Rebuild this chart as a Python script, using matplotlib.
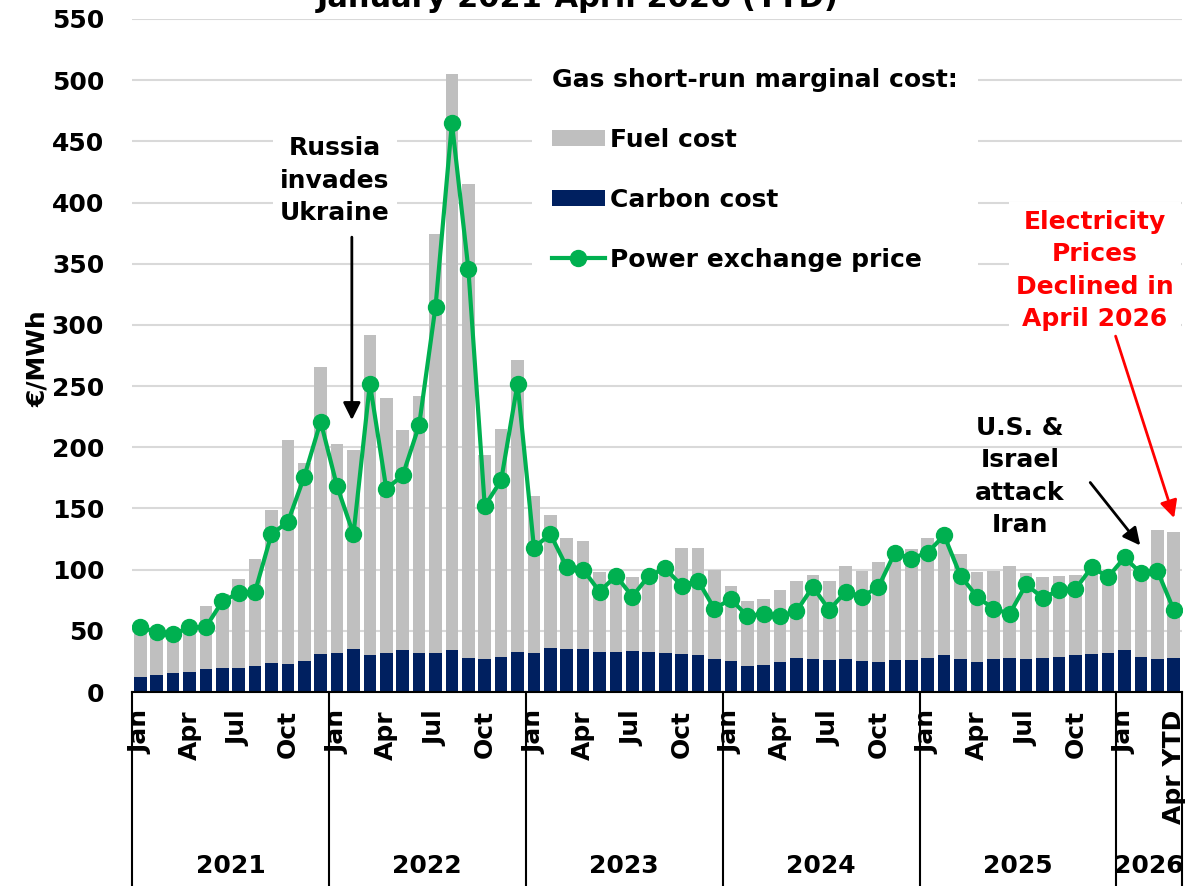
import matplotlib.pyplot as plt
import matplotlib.transforms as mtransforms
from matplotlib.patches import Patch
from matplotlib.lines import Line2D
import numpy as np

# monthly data, Jan 2021 .. Apr 2026 (EUR/MWh)
years = ["2021", "2022", "2023", "2024", "2025", "2026"]
months_per_year = [12, 12, 12, 12, 12, 4]
month_labels = (["Jan", "", "", "Apr", "", "", "Jul", "", "", "Oct", "", ""] * 5
                + ["Jan", "", "", "Apr YTD"])

# total gas short-run marginal cost (fuel + carbon) = bar top
total_cost = [50, 45, 44, 55, 70, 80, 92, 109, 149, 206, 187, 266,
              203, 198, 292, 240, 214, 242, 374, 505, 415, 194, 215, 271,
              160, 145, 126, 123, 98, 97, 94, 97, 100, 118, 118, 100,
              87, 74, 76, 83, 91, 96, 91, 103, 99, 106, 116, 117,
              126, 127, 113, 98, 99, 103, 97, 94, 95, 96, 98, 98,
              106, 98, 132, 131]
carbon_cost = [12, 14, 15.5, 16.5, 19, 20, 20, 21, 24, 23, 25, 31,
               32, 35, 30, 32, 34, 32, 32, 34, 28, 27, 29, 33,
               32, 36, 35, 35, 33, 33, 33.5, 33, 32, 31, 30, 27,
               25, 21.5, 22, 24.5, 27.5, 27, 26, 27, 25.5, 24.5, 26, 26,
               28, 30, 27, 24.5, 27, 28, 27, 28, 29, 30, 31, 32,
               34, 29, 27, 27.5]
power_price = [53, 49, 47, 53, 53, 74, 81, 82, 129, 139, 176, 221,
               168, 129, 252, 166, 177, 218, 315, 465, 346, 152, 173, 252,
               118, 129, 102, 100, 82, 95, 78, 95, 101, 87, 91, 68,
               76, 62, 64, 62, 66, 86, 67, 82, 78, 86, 114, 109,
               114, 128, 95, 78, 68, 64, 88, 77, 83, 84, 102, 94,
               110, 97, 99, 67]

GREY = "#BFBFBF"
NAVY = "#002060"
GREEN = "#00B050"
FS = 18

plt.rcParams["font.family"] = "DejaVu Sans"
plt.rcParams["font.weight"] = "bold"

W, H = 1194, 886
fig = plt.figure(figsize=(W / 100, H / 100), dpi=100)
ax = fig.add_axes([132 / W, 1 - 692 / H, 1050 / W, 673 / H])

x = np.arange(len(total_cost))
fuel_cost = np.array(total_cost) - np.array(carbon_cost)

ax.bar(x, carbon_cost, width=0.77, color=NAVY, zorder=2)
ax.bar(x, fuel_cost, bottom=carbon_cost, width=0.77, color=GREY, zorder=2)
ax.plot(x, power_price, color=GREEN, lw=3, marker="o", ms=11.5, zorder=4)

ax.set_xlim(-0.5, len(x) - 0.5)
ax.set_ylim(0, 550)
ax.set_yticks(np.arange(0, 551, 50))
ax.grid(axis="y", color="#D9D9D9", lw=1.5, zorder=0)
ax.set_axisbelow(True)
for s in ["left", "right", "top"]:
    ax.spines[s].set_visible(False)
ax.spines["bottom"].set_color("black")
ax.spines["bottom"].set_linewidth(1.5)
ax.spines["bottom"].set_zorder(3)
ax.tick_params(axis="y", length=0, pad=20, labelsize=FS)
ax.set_xticks(x)
ax.set_xticklabels(month_labels, rotation=90, fontsize=FS)
ax.tick_params(axis="x", length=0, pad=13)

ax.set_ylabel("€/MWh", fontsize=FS, fontweight="bold")
ax.yaxis.set_label_coords(-0.078, 0.496)

# year groups under the month labels
trans = mtransforms.blended_transform_factory(ax.transData, ax.transAxes)
bounds = np.cumsum([0] + months_per_year) - 0.5
for b in bounds:
    ax.plot([b, b], [0, -0.3], color="black", lw=1.5, transform=trans,
            clip_on=False)
for yr, a, b in zip(years, bounds[:-1], bounds[1:]):
    ax.text((a + b) / 2, -0.2585, yr, transform=trans, ha="center",
            va="center", fontsize=FS, fontweight="bold")

# title (cut at the top edge, as in the source)
fig.text(0.484, 1 - 7 / H, "January 2021-April 2026 (YTD)", ha="center",
         va="baseline", fontsize=22, fontweight="bold")

# legend
handles = [Patch(facecolor=GREY), Patch(facecolor=NAVY),
           Line2D([], [], color=GREEN, lw=3, marker="o", ms=11.5)]
labels = ["Fuel cost", "Carbon cost", "Power exchange price"]
leg = ax.legend(handles, labels, title="Gas short-run marginal cost:",
                loc="upper left", bbox_to_anchor=(532 / W, 1 - 48 / H),
                bbox_transform=fig.transFigure, alignment="left",
                prop={"size": FS, "weight": "bold"},
                title_fontproperties={"size": FS, "weight": "bold"},
                frameon=True, fancybox=False, facecolor="white",
                edgecolor="none", framealpha=1, borderpad=0.8,
                borderaxespad=0, labelspacing=1.44, handlelength=2.1,
                handleheight=0.64, handletextpad=0.2, numpoints=1)
leg.set_zorder(1)

box = dict(boxstyle="square,pad=0.3", fc="white", ec="none")

# annotations
ax.text(11.87, 418, "Russia\ninvades\nUkraine", ha="center", va="center",
        fontsize=FS, fontweight="bold", linespacing=1.45, bbox=box, zorder=3)
ax.annotate("", xy=(12.9, 220), xytext=(12.9, 374),
            arrowprops=dict(arrowstyle="-|>", color="black", lw=2,
                            mutation_scale=26), zorder=3)

ax.text(53.63, 176, "U.S. &\nIsrael\nattack\nIran", ha="center", va="center",
        fontsize=FS, fontweight="bold", linespacing=1.45, zorder=3)
ax.annotate("", xy=(61.06, 118), xytext=(57.8, 173),
            arrowprops=dict(arrowstyle="-|>", color="black", lw=2,
                            mutation_scale=26), zorder=3)

ax.text(58.2, 344.5, "Electricity\nPrices\nDeclined in\nApril 2026",
        ha="center", va="center", fontsize=FS, fontweight="bold",
        color="red", linespacing=1.45, bbox=box, zorder=3)
ax.annotate("", xy=(63.07, 140), xytext=(59.4, 293),
            arrowprops=dict(arrowstyle="-|>", color="red", lw=2,
                            mutation_scale=26), zorder=3)

fig.savefig("out.png", dpi=100)
